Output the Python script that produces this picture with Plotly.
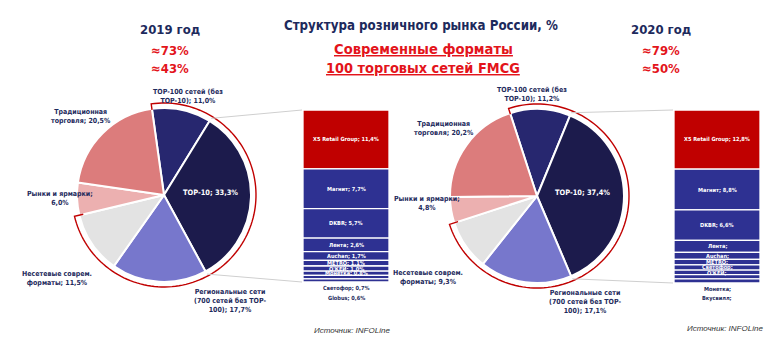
import math
import plotly.graph_objects as go

W, H = 782, 356

# ---------------- data ----------------
SEGMENTS = ["TOP-100 сетей (без TOP-10)", "TOP-10",
            "Региональные сети (700 сетей без TOP-100)",
            "Несетевые соврем. форматы", "Рынки и ярмарки", "Традиционная торговля"]
SHARE_2019 = [11.0, 33.3, 17.7, 11.5, 6.0, 20.5]
SHARE_2020 = [11.2, 37.4, 17.1, 9.3, 4.8, 20.2]

RETAIL_2019 = ["X5 Retail Group", "Магнит", "DKBR", "Лента", "Auchan", "METRO",
               "О'КЕЙ", "Монетка", "Светофор", "Globus"]
RETAIL_2019_SHARE = [11.4, 7.7, 5.7, 2.6, 1.7, 1.1, 1.0, 0.8, 0.7, 0.6]
RETAIL_2020 = ["X5 Retail Group", "Магнит", "DKBR", "Лента", "Auchan", "METRO",
               "Светофор", "О'КЕЙ", "Монетка", "Вкусвилл"]
RETAIL_2020_SHARE = [12.8, 8.8, 6.6, 2.6, 1.5, 1.2, 1.1, 1.0, 0.9, 0.9]

YEAR_LABELS = ["2019 год", "2020 год"]
MODERN_TEXT = ["≈73%", "≈79%"]
TOP100_TEXT = ["≈43%", "≈50%"]
TITLE = "Структура розничного рынка России, %"
SUB1 = "Современные форматы"
SUB2 = "100 торговых сетей FMCG"
SOURCE = "Источник: INFOLine"

# segment label templates (line breaks as in the original)
SEG_LABEL_FMT = ["TOP-100 сетей (без<br>TOP-10); {v}", "TOP-10; {v}",
                 "Региональные сети<br>(700 сетей без TOP-<br>100); {v}",
                 "Несетевые соврем.<br>форматы; {v}", "Рынки и ярмарки;<br>{v}",
                 "Традиционная<br>торговля; {v}"]
N_MODERN = 4          # first four segments = modern formats
SHOW_VALUE = [10, 3]  # how many retailer labels carry a value
N_BELOW = 2           # last retailers labelled under the bar

# ---------------- layout / style ----------------
NAVY = "#1d2a5c"
RED = "#e3141b"
DARK_RED = "#c00000"
BAR_BLUE = "#2e3192"
PIE_COLORS = ["#27276f", "#1c1b4c", "#7777cc", "#e3e3e3", "#ecb0b0", "#dc7c7c"]
FONT = "DejaVu Sans Condensed, sans-serif"

PIE_C = [(164, 195), (537, 196)]
PIE_R = 87
PIE_ROT = [-8, -18]
BAR_BOX = [(303, 389, 110, 282), (674, 760, 110, 283)]
SEG_LABEL_POS = [
    [(188, 96), (211, 192), (230, 301), (57, 278), (60, 198), (81, 117)],
    [(532, 95), (582, 192), (585, 302), (428, 277), (427, 204), (444, 128)],
]
SOURCE_POS = [(352, 330), (725, 328)]
YEAR_X = [170, 661]
HEADER_Y = [30, 50, 68]


def px(x):
    return x / W


def py(y):
    return 1 - y / H


def fmt(v):
    return f"{v:.1f}%".replace(".", ",")


fig = go.Figure()
annotations = []
shapes = []


def ann(x, y, text, size, color, bold=True, italic=False, family=FONT, **kw):
    if bold:
        text = f"<b>{text}</b>"
    if italic:
        text = f"<i>{text}</i>"
    d = dict(x=px(x), y=py(y), xref="paper", yref="paper", text=text,
             showarrow=False, xanchor="center", yanchor="middle",
             font=dict(size=size, color=color, family=family))
    d.update(kw)
    annotations.append(d)


pies = [SHARE_2019, SHARE_2020]
retail = [(RETAIL_2019, RETAIL_2019_SHARE), (RETAIL_2020, RETAIL_2020_SHARE)]

for k in range(2):
    cx, cy = PIE_C[k]
    vals = pies[k]
    fig.add_trace(go.Pie(
        labels=SEGMENTS, values=vals, sort=False, direction="clockwise",
        rotation=PIE_ROT[k], textinfo="none", hoverinfo="label+value",
        marker=dict(colors=PIE_COLORS, line=dict(color="white", width=2)),
        domain=dict(x=[px(cx - PIE_R), px(cx + PIE_R)],
                    y=[py(cy + PIE_R), py(cy - PIE_R)]),
        showlegend=False))

    # segment labels
    for i, v in enumerate(vals):
        lx, ly = SEG_LABEL_POS[k][i]
        col = "white" if i == 1 else NAVY
        ann(lx, ly, SEG_LABEL_FMT[i].format(v=fmt(v)), 7.4 if i == 1 else 7.0, col)

    # red arc around the modern formats
    total = sum(vals)
    a0 = PIE_ROT[k]
    a1 = a0 + 360 * sum(vals[:N_MODERN]) / total
    R = PIE_R + 5

    def pt(a, r):
        t = math.radians(a)
        return cx + r * math.sin(t), cy - r * math.cos(t)

    pts = [pt(a0, PIE_R - 1)]
    n = 120
    for j in range(n + 1):
        pts.append(pt(a0 + (a1 - a0) * j / n, R))
    pts.append(pt(a1, PIE_R - 4))
    path = "M " + " L ".join(f"{px(x):.5f},{py(y):.5f}" for x, y in pts)
    shapes.append(dict(type="path", path=path, xref="paper", yref="paper",
                       line=dict(color=DARK_RED, width=1.4)))

    # connector lines from the TOP-10 slice to the bar
    top10_start = a0 + 360 * vals[0] / total
    top10_end = top10_start + 360 * vals[1] / total
    bx0, bx1, by0, by1 = BAR_BOX[k]
    for ang, yb in ((top10_start, by0), (top10_end, by1)):
        sx, sy = pt(ang, PIE_R + 3)
        shapes.append(dict(type="line", xref="paper", yref="paper",
                           x0=px(sx), y0=py(sy), x1=px(bx0 - 1), y1=py(yb),
                           line=dict(color="#cfcfcf", width=1)))

    # stacked bar of the top-10 retailers
    names, shares = retail[k]
    bases = []
    acc = 0
    for s in shares:
        bases.append(acc)
        acc += s
    xa = "x" if k == 0 else "x2"
    ya = "y" if k == 0 else "y2"
    colors = [DARK_RED] + [BAR_BLUE] * (len(shares) - 1)
    fig.add_trace(go.Bar(
        x=[0] * len(shares), y=shares, base=bases, width=1,
        marker=dict(color=colors, line=dict(color="white", width=1.3)),
        xaxis=xa, yaxis=ya, showlegend=False, hovertext=names, hoverinfo="text+y"))
    for i, (nm, s) in enumerate(zip(names, shares)):
        txt = f"{nm}; {fmt(s)}" if i < SHOW_VALUE[k] else f"{nm};"
        below = i >= len(shares) - N_BELOW
        if below:
            j = i - (len(shares) - N_BELOW)
            annotations.append(dict(
                x=0, y=0, xref=xa, yref=f"{ya} domain", text=f"<b>{txt}</b>",
                showarrow=False, yanchor="middle", yshift=-6 - 9.5 * j,
                font=dict(size=5.6, color=NAVY, family=FONT)))
        else:
            annotations.append(dict(
                x=0, y=bases[i] + s / 2, xref=xa, yref=ya, text=f"<b>{txt}</b>",
                showarrow=False, yanchor="middle",
                font=dict(size=5.6, color="white", family=FONT)))

    # headers
    ann(YEAR_X[k], HEADER_Y[0], YEAR_LABELS[k], 13, NAVY)
    ann(YEAR_X[k], HEADER_Y[1], MODERN_TEXT[k], 13, RED)
    ann(YEAR_X[k], HEADER_Y[2], TOP100_TEXT[k], 13, RED)
    sx_, sy_ = SOURCE_POS[k]
    ann(sx_, sy_, SOURCE, 8, "#333333", bold=False, italic=True,
        family="Liberation Sans, Arial, sans-serif")

ann(421, 25, TITLE, 13.2, NAVY)
ann(423, 48, f"<u>{SUB1}</u>", 14.6, RED)
ann(423, 68, f"<u>{SUB2}</u>", 14.4, RED)

axis_common = dict(visible=False, showgrid=False, zeroline=False, fixedrange=True)
b0, b1 = BAR_BOX
fig.update_layout(
    width=W, height=H, margin=dict(l=0, r=0, t=0, b=0),
    paper_bgcolor="white", plot_bgcolor="rgba(0,0,0,0)",
    barmode="overlay", showlegend=False,
    xaxis=dict(domain=[px(b0[0]), px(b0[1])], range=[-0.5, 0.5], anchor="y", **axis_common),
    yaxis=dict(domain=[py(b0[3]), py(b0[2])], range=[sum(RETAIL_2019_SHARE), 0], anchor="x", **axis_common),
    xaxis2=dict(domain=[px(b1[0]), px(b1[1])], range=[-0.5, 0.5], anchor="y2", **axis_common),
    yaxis2=dict(domain=[py(b1[3]), py(b1[2])], range=[sum(RETAIL_2020_SHARE), 0], anchor="x2", **axis_common),
    annotations=annotations, shapes=shapes,
)

fig.write_html("out.html", config={"displayModeBar": False},
               post_script="document.body.style.margin='0px';")
